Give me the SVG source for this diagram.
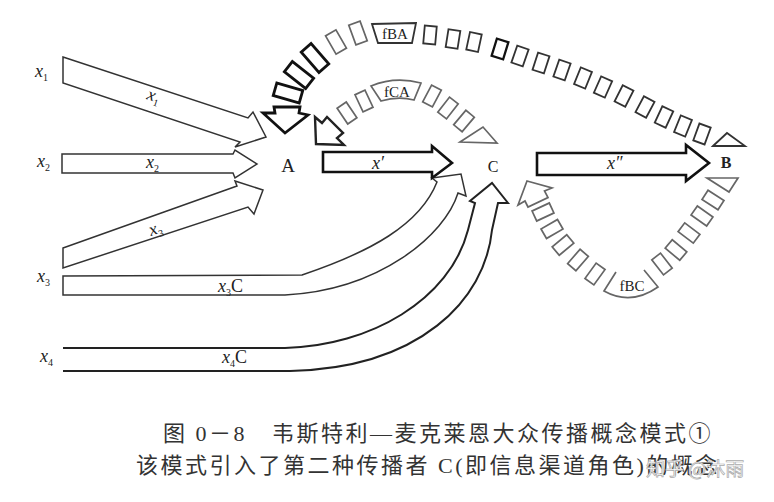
<svg xmlns="http://www.w3.org/2000/svg" xmlns:xlink="http://www.w3.org/1999/xlink" width="774" height="502" viewBox="0 0 774 502">
<style>
.arr{fill:#fff;stroke:#333;stroke-width:1.5;stroke-linejoin:miter}
.bold{fill:#fff;stroke:#111;stroke-width:2.6;stroke-linejoin:miter}
.bx{fill:#fff;stroke:#333;stroke-width:1.8}
.bxk{fill:#fff;stroke:#111;stroke-width:2.8}
.bxg{fill:#fff;stroke:#666;stroke-width:1.7}
.lbl{font-family:"Liberation Serif","DejaVu Serif",serif;fill:#222}
.it{font-style:italic;font-size:18px}
.sub{font-size:10px;font-style:normal}
.node{font-size:19px;text-anchor:middle}
.f{font-size:15px;text-anchor:middle}
.cap{font-family:"Liberation Serif","Noto Sans CJK SC",serif;font-size:22px;fill:#333;letter-spacing:2.5px}
</style>
<defs>
<rect id="bl" x="-6.5" y="-13.5" width="13" height="27"/>
<rect id="bm" x="-6" y="-10.5" width="12" height="21"/>
<rect id="bs" x="-6" y="-9" width="12" height="18"/>
<rect id="bc" x="-5.5" y="-9.5" width="11" height="19"/>
</defs>

<g id="connectors">
  <g id="arrow-x1"><path class="arr" d="M63,57 L248,118 L253,112 L266,137 L235,147 L240,142 L63,83 Z"/></g>
  <g id="arrow-x2"><path class="arr" d="M62,154 L233,154 L235,150 L257,164 L235,178 L233,173 L62,173 Z"/></g>
  <g id="arrow-x3"><path class="arr" d="M63,248 L237,186 L235,181 L263,190 L254,214 L248,207 L63,268 Z"/></g>
  <g id="arrow-x3C"><path class="arr" d="M63,276 L302,275 C370,252 420,225 437,182 L432,178 L461,174 L466,196 L458,193 C445,235 380,290 285,295 L63,295 Z"/></g>
  <g id="arrow-x4C"><path class="arr" style="stroke:#222;stroke-width:2" d="M63,348 L285,348 C370,346 450,300 468,230 L475,203 L470,201 L492,183 L508,203 L498,203 L492,230 C485,300 420,368 290,371 L63,371"/></g>
  <g id="arrow-xp"><path class="bold" d="M323,152 L432,152 L432,146 L452,163 L432,178 L432,172 L323,172 Z"/></g>
  <g id="arrow-xpp"><path class="bold" d="M537,153 L686,153 L686,145 L709,163 L686,181 L686,175 L537,175 Z"/></g>

  <g id="feedback-fBA">
    <path class="bxk" d="M263,113 L275,113 L274,107 L300,107 L299,113 L308,115 L285,133 Z"/>
    <use xlink:href="#bl" class="bxk" transform="translate(288,93) rotate(-74)"/>
    <use xlink:href="#bl" class="bxk" transform="translate(299,75) rotate(-52)"/>
    <use xlink:href="#bl" class="bxk" transform="translate(315,58) rotate(-41)"/>
    <use xlink:href="#bm" class="bxg" transform="translate(336,42) rotate(-30)"/>
    <use xlink:href="#bm" class="bxg" transform="translate(358,33) rotate(-20)"/>
    <path class="bx" d="M372,24 L416,23 L412,43 L378,43 Z"/>
    <text class="lbl f" x="395" y="39">fBA</text>
    <use xlink:href="#bs" class="bx" transform="translate(430,35) rotate(5)"/>
    <use xlink:href="#bs" class="bx" transform="translate(453,39) rotate(9)"/>
    <use xlink:href="#bs" class="bx" transform="translate(474,42) rotate(12)"/>
    <use xlink:href="#bs" class="bx" style="stroke:#111;stroke-width:2.3" transform="translate(500,49) rotate(17)"/>
    <use xlink:href="#bs" class="bx" transform="translate(520,56) rotate(19)"/>
    <use xlink:href="#bs" class="bx" transform="translate(541,63) rotate(18)"/>
    <use xlink:href="#bs" class="bx" transform="translate(562,70) rotate(19)"/>
    <use xlink:href="#bs" class="bx" transform="translate(583,78) rotate(22)"/>
    <use xlink:href="#bs" class="bx" transform="translate(603,87) rotate(24)"/>
    <use xlink:href="#bs" class="bx" transform="translate(624,96) rotate(27)"/>
    <use xlink:href="#bs" class="bx" transform="translate(645,107) rotate(28)"/>
    <use xlink:href="#bs" class="bx" transform="translate(664,117) rotate(25)"/>
    <use xlink:href="#bs" class="bx" transform="translate(683,126) rotate(22)"/>
    <use xlink:href="#bs" class="bx" transform="translate(702,134) rotate(20)"/>
    <path class="bx" d="M713,146 L727,133 L745,146 Z"/>
  </g>

  <g id="feedback-fCA">
    <path class="bold" style="stroke:#222;stroke-width:2.4" d="M316,144 L315,117 L322,123 L327,117 L343,133 L337,138 L344,145 Z"/>
    <use xlink:href="#bc" class="bxg" transform="translate(347,113) rotate(-34)"/>
    <use xlink:href="#bc" class="bxg" transform="translate(364,101) rotate(-25)"/>
    <path class="bxg" d="M371,86 Q395,76 421,83 L414,100 Q398,96 381,101 Z"/>
    <text class="lbl f" x="397" y="97">fCA</text>
    <use xlink:href="#bc" class="bxg" transform="translate(432,96) rotate(28)"/>
    <use xlink:href="#bc" class="bxg" transform="translate(448,108) rotate(38)"/>
    <use xlink:href="#bc" class="bxg" transform="translate(464,121) rotate(40)"/>
    <path class="bxg" d="M460,142 L483,127 L497,143 Z"/>
  </g>

  <g id="feedback-fBC">
    <path class="bxg" d="M527,181 L552,188 L544.5,191 L548,197.5 L528,207 L525,201 L518,205 Z"/>
    <use xlink:href="#bc" class="bxg" transform="translate(543,212) rotate(65)"/>
    <use xlink:href="#bc" class="bxg" transform="translate(552,229) rotate(60)"/>
    <use xlink:href="#bc" class="bxg" transform="translate(563,245) rotate(50)"/>
    <use xlink:href="#bc" class="bxg" transform="translate(578,260) rotate(41)"/>
    <use xlink:href="#bc" class="bxg" transform="translate(595,274) rotate(36)"/>
    <path class="bxg" style="fill:none" d="M616,272 L604,291 Q631,306 658,287 L644,270"/>
    <text class="lbl f" x="632" y="291">fBC</text>
    <use xlink:href="#bc" class="bxg" transform="translate(662,264) rotate(-38)"/>
    <use xlink:href="#bc" class="bxg" transform="translate(676,250) rotate(-50)"/>
    <use xlink:href="#bc" class="bxg" transform="translate(689,233) rotate(-53)"/>
    <use xlink:href="#bc" class="bxg" transform="translate(702,216) rotate(-55)"/>
    <use xlink:href="#bc" class="bxg" transform="translate(713,200) rotate(-57)"/>
    <path class="bxg" d="M707,178 L738,178 L729,192 Z"/>
  </g>
</g>

<g id="arrow-labels">
  <text class="lbl it" transform="translate(146,99) rotate(18)">x<tspan class="sub" dy="4">1</tspan></text>
  <text class="lbl it" x="146" y="168">x<tspan class="sub" dy="4">2</tspan></text>
  <text class="lbl it" transform="translate(151,236) rotate(-19)">x<tspan class="sub" dy="4">3</tspan></text>
  <text class="lbl it" x="218" y="292">x<tspan class="sub" dy="4">3</tspan><tspan font-style="normal" dy="-4">C</tspan></text>
  <text class="lbl it" x="222" y="363">x<tspan class="sub" dy="4">4</tspan><tspan font-style="normal" dy="-4">C</tspan></text>
  <text class="lbl it" x="372" y="169">x′</text>
  <text class="lbl it" x="607" y="169">x″</text>
</g>

<g id="node-x1"><text class="lbl it" x="35" y="77">x<tspan class="sub" dy="4">1</tspan></text></g>
<g id="node-x2"><text class="lbl it" x="37" y="167">x<tspan class="sub" dy="4">2</tspan></text></g>
<g id="node-x3"><text class="lbl it" x="37" y="282">x<tspan class="sub" dy="4">3</tspan></text></g>
<g id="node-x4"><text class="lbl it" x="40" y="362">x<tspan class="sub" dy="4">4</tspan></text></g>
<g id="node-A"><text class="lbl node" x="288" y="172">A</text></g>
<g id="node-C"><text class="lbl node" style="font-size:16px" x="493" y="172">C</text></g>
<g id="node-B"><text class="lbl node" style="font-size:16px;font-weight:bold" x="726" y="168">B</text></g>

<g id="caption">
  <text class="cap" x="163" y="441">图 0－8</text>
  <text class="cap" x="272" y="441">韦斯特利—麦克莱恩大众传播概念模式①</text>
  <text class="cap" x="136" y="473">该模式引入了第二种传播者 C(即信息渠道角色)的概念</text>
  <text x="646" y="476" style="font-family:'Noto Sans CJK SC',sans-serif;font-size:19px;fill:#fff;stroke:#aaa;stroke-width:0.7">知乎 @沐雨</text>
</g>
</svg>
